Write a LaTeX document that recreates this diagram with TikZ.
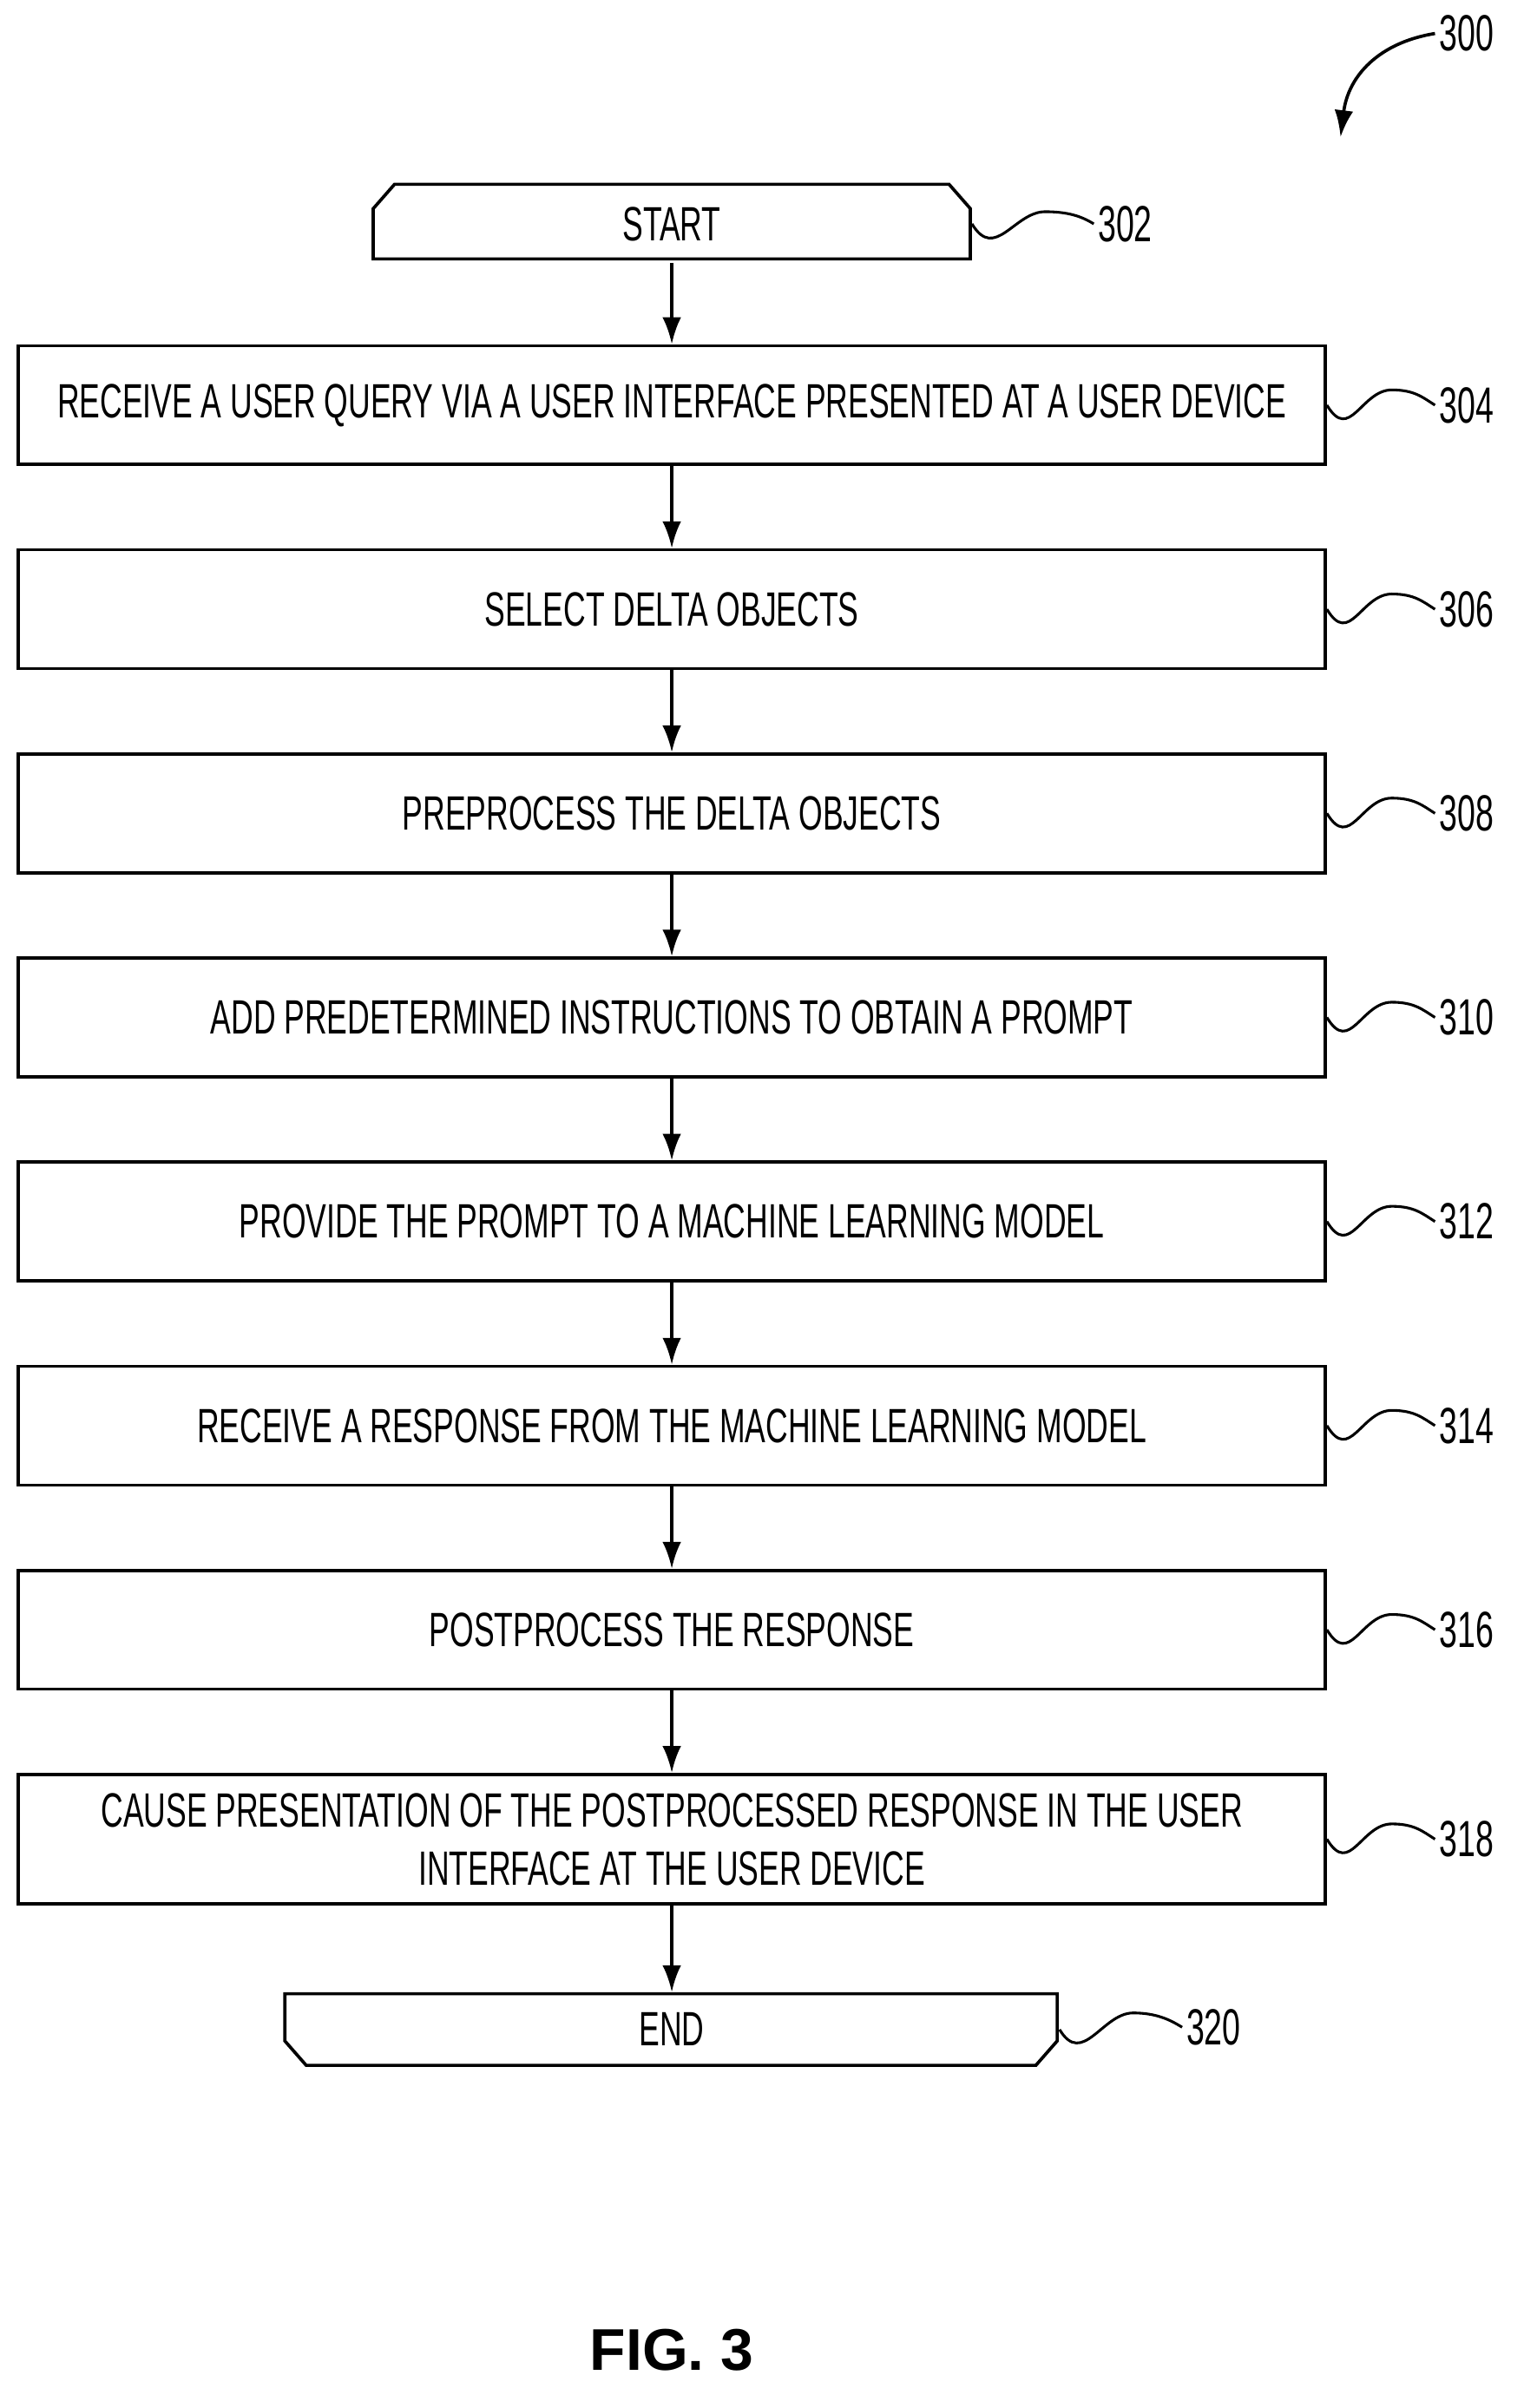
\documentclass[tikz,border=0pt]{standalone}
\usepackage{fontspec}
\setmainfont{Liberation Sans}[FakeStretch=0.64]
\newfontfamily\figfont{Liberation Sans}
\usetikzlibrary{arrows.meta,positioning,calc}
\tikzset{
	stepbox/.style={draw,line width=1.2pt,rectangle,minimum width=858*0.02cm,minimum height=78*0.02cm,align=center,font=\fontsize{18}{20}\selectfont,inner sep=0pt},
	ref/.style={font=\fontsize{19}{22}\selectfont,inner sep=1pt,anchor=west},
	squig/.style={line width=1pt},
	every path/.style={line width=1.2pt},
	flow/.style={-{Latex[length=10pt,width=7pt]}}
}
\begin{document}
\begin{tikzpicture}[x=0.02cm,y=-0.02cm]
	\useasboundingbox (0,0) rectangle (1000,1581);
	% terminals
	\draw (245,170) -- (245,137) -- (259,121) -- (623,121) -- (637,137) -- (637,170) -- cycle;
	\node[inner sep=0pt,minimum width=392*0.02cm,minimum height=49*0.02cm,font=\fontsize{18}{20}\selectfont] (start) at (441,147) {START};
	\draw (187,1309) -- (694,1309) -- (694,1340) -- (680,1356) -- (201,1356) -- (187,1340) -- cycle;
	\node[inner sep=0pt,minimum width=507*0.02cm,minimum height=47*0.02cm,font=\fontsize{18}{20}\selectfont] (end) at (441,1332.5) {END};
	% steps
	\node[stepbox] (s304) at (441,266) {RECEIVE A USER QUERY VIA A USER INTERFACE PRESENTED AT A USER DEVICE};
	\node[stepbox] (s306) at (441,400) {SELECT DELTA OBJECTS};
	\node[stepbox] (s308) at (441,534) {PREPROCESS THE DELTA OBJECTS};
	\node[stepbox] (s310) at (441,668) {ADD PREDETERMINED INSTRUCTIONS TO OBTAIN A PROMPT};
	\node[stepbox] (s312) at (441,802) {PROVIDE THE PROMPT TO A MACHINE LEARNING MODEL};
	\node[stepbox] (s314) at (441,936) {RECEIVE A RESPONSE FROM THE MACHINE LEARNING MODEL};
	\node[stepbox] (s316) at (441,1070) {POSTPROCESS THE RESPONSE};
	\node[stepbox,minimum height=85*0.02cm,font=\fontsize{18}{36}\selectfont] (s318) at (441,1207.5) {CAUSE PRESENTATION OF THE POSTPROCESSED RESPONSE IN THE USER\\[-1.5ex]INTERFACE AT THE USER DEVICE};
	% arrows
	\draw[flow] (start) -- (s304);
	\foreach \a/\b in {s304/s306,s306/s308,s308/s310,s310/s312,s312/s314,s314/s316,s316/s318,s318/end}
		\draw[flow] (\a) -- (\b);
	% reference numerals
	\node[ref] (r302) at (718,147) {302};
	\draw[squig] (start.east) .. controls +(15,25) and +(-20,0) .. ($(start.east)!0.6!(r302.west)+(0,-8)$) .. controls +(15,0) and +(-8,-5) .. (r302.west);
	\foreach \s/\y in {304/266,306/400,308/534,310/668,312/802,314/936,316/1070,318/1207.5} {
		\node[ref] (r\s) at (942,\y) {\s};
		\draw[squig] (s\s.east) .. controls +(15,25) and +(-20,0) .. ($(s\s.east)!0.6!(r\s.west)+(0,-10)$) .. controls +(15,0) and +(-8,-5) .. (r\s.west);
	}
	\node[ref] (r320) at (776,1331) {320};
	\draw[squig] (end.east) .. controls +(15,25) and +(-20,0) .. ($(end.east)!0.6!(r320.west)+(0,-10)$) .. controls +(15,0) and +(-8,-5) .. (r320.west);
	% figure numeral
	\node[ref] (r300) at (942,22) {300};
	\coordinate (a300) at (880,90);
	\draw[flow] (r300.west) .. controls (905,28) and (885,50) .. (a300);
	\node[font=\figfont\bfseries\fontsize{22}{26}\selectfont] (fig) at (441,1543) {FIG. 3};
\end{tikzpicture}
\end{document}
